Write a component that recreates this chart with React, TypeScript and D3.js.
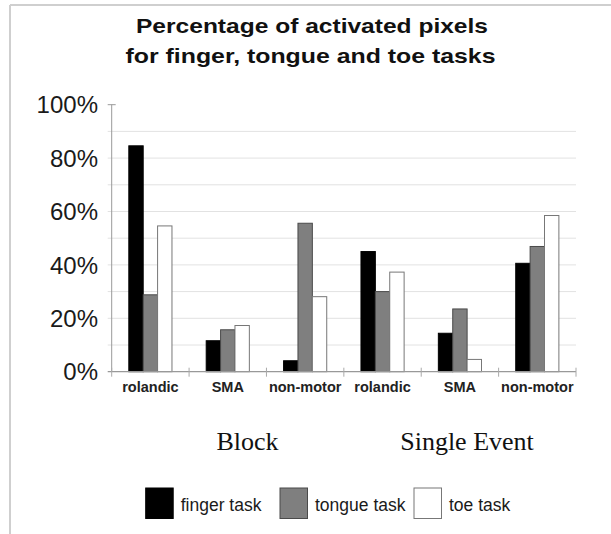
import React, { useEffect, useRef } from "react";
import * as d3 from "d3";

// values (percent)
const regions = ["rolandic", "SMA", "non-motor"];
const designs = ["Block", "Single Event"];
const series = ["finger task", "tongue task", "toe task"];
const fingerTask = [84.6, 11.6, 4.1, 45.0, 14.4, 40.6];
const tongueTask = [28.8, 15.7, 55.6, 30.0, 23.5, 46.9];
const toeTask = [54.6, 17.3, 28.1, 37.3, 4.6, 58.5];
const yTickLabels = [0, 20, 40, 60, 80, 100];
const yGrid = [10, 20, 30, 40, 50, 60, 70, 80, 90];

var svgWidth = 611;
var svgHeight = 534;
var left = 111.7, right = 576, top = 104.7, bottom = 371.7;

const fills = ["#000000", "#7f7f7f", "#ffffff"];
const strokes = ["#000000", "#4a4a4a", "#777777"];

export default function App() {
  const ref = useRef<SVGSVGElement>(null);

  useEffect(() => {
    const svg = d3.select(ref.current);
    svg.selectAll("*").remove();

    const cats: string[] = [];
    designs.forEach((d) => regions.forEach((r) => cats.push(d + "|" + r)));
    const values = [fingerTask, tongueTask, toeTask];

    const x0 = d3.scaleBand().domain(cats).range([left, right]).padding(0);
    const x1 = d3.scaleBand().domain(series).range([0, x0.bandwidth()]).paddingInner(0).paddingOuter(1.19);
    const y = d3.scaleLinear().domain([0, 100]).range([bottom, top]);

    // frame
    svg.append("line").attr("x1", 10).attr("x2", svgWidth).attr("y1", 5).attr("y2", 5)
      .attr("stroke", "#cfcfcf").attr("stroke-width", 2);
    svg.append("line").attr("x1", 10).attr("x2", 10).attr("y1", 5).attr("y2", svgHeight)
      .attr("stroke", "#cfcfcf").attr("stroke-width", 2);

    // title
    const title = svg.append("g").attr("font-family", "Liberation Sans, Arial, sans-serif")
      .attr("font-weight", "bold").attr("font-size", 21).attr("text-anchor", "middle").attr("fill", "#111");
    title.append("text").attr("x", 312).attr("y", 32.5).attr("textLength", 352)
      .attr("lengthAdjust", "spacingAndGlyphs").text("Percentage of activated pixels");
    title.append("text").attr("x", 310.5).attr("y", 62.5).attr("textLength", 370)
      .attr("lengthAdjust", "spacingAndGlyphs").text("for finger, tongue and toe tasks");

    // grid
    svg.append("g").selectAll("line").data(yGrid).enter().append("line")
      .attr("x1", left - 4).attr("x2", right)
      .attr("y1", (d) => y(d)).attr("y2", (d) => y(d))
      .attr("stroke", "#e2e2e2").attr("stroke-width", 1);
    svg.append("line").attr("x1", left - 4).attr("x2", left + 4).attr("y1", y(100)).attr("y2", y(100))
      .attr("stroke", "#999");

    // y axis
    svg.append("line").attr("x1", left).attr("x2", left).attr("y1", top).attr("y2", bottom)
      .attr("stroke", "#999").attr("stroke-width", 1);
    svg.append("g").selectAll("text").data(yTickLabels).enter().append("text")
      .attr("x", 98).attr("y", (d) => y(d)).attr("dy", "0.36em")
      .attr("text-anchor", "end").attr("font-family", "Liberation Sans, Arial, sans-serif")
      .attr("font-size", 24).attr("fill", "#1a1a1a").text((d) => d + "%");

    // bars
    const groups = svg.append("g").selectAll("g").data(cats).enter().append("g")
      .attr("transform", (d) => "translate(" + x0(d) + ",0)");
    groups.selectAll("rect")
      .data((d, i) => series.map((s, j) => ({ s: s, j: j, v: values[j][i] })))
      .enter().append("rect")
      .attr("x", (d: any) => x1(d.s)!)
      .attr("y", (d: any) => y(d.v))
      .attr("width", x1.bandwidth())
      .attr("height", (d: any) => bottom - y(d.v))
      .attr("fill", (d: any) => fills[d.j])
      .attr("stroke", (d: any) => strokes[d.j])
      .attr("stroke-width", 1);

    // x axis
    svg.append("line").attr("x1", left - 4).attr("x2", right).attr("y1", bottom).attr("y2", bottom)
      .attr("stroke", "#999").attr("stroke-width", 1.2);
    const edges = cats.map((c) => x0(c)!).concat([right]);
    svg.append("g").selectAll("line").data(edges).enter().append("line")
      .attr("x1", (d) => d).attr("x2", (d) => d).attr("y1", bottom - 4).attr("y2", bottom + 5)
      .attr("stroke", "#aaa");
    svg.append("g").selectAll("text").data(cats).enter().append("text")
      .attr("x", (d) => x0(d)! + x0.bandwidth() / 2).attr("y", 392)
      .attr("text-anchor", "middle").attr("font-family", "Liberation Sans, Arial, sans-serif")
      .attr("font-weight", "bold").attr("font-size", 14.5).attr("fill", "#222")
      .text((d) => d.split("|")[1]);

    // design labels
    const designX = [247.5, 467];
    svg.append("g").selectAll("text").data(designs).enter().append("text")
      .attr("x", (d, i) => designX[i]).attr("y", 450)
      .attr("text-anchor", "middle").attr("font-family", "Liberation Serif, Times New Roman, serif")
      .attr("font-size", 26).attr("fill", "#111").text((d) => d);

    // legend
    const legendX = [145.7, 280, 414];
    const lg = svg.append("g").selectAll("g").data(series).enter().append("g")
      .attr("transform", (d, i) => "translate(" + legendX[i] + ",488)");
    lg.append("rect").attr("width", 27.5).attr("height", 30.5)
      .attr("fill", (d, i) => fills[i]).attr("stroke", (d, i) => strokes[i]).attr("stroke-width", 1);
    lg.append("text").attr("x", 35).attr("y", 22.5)
      .attr("font-family", "Liberation Sans, Arial, sans-serif").attr("font-size", 17.5)
      .attr("fill", "#1a1a1a").text((d) => d);
  }, []);

  return (
    <svg ref={ref} width={svgWidth} height={svgHeight}
      style={{ position: "absolute", left: 0, top: 0, background: "#fff" }} />
  );
}
